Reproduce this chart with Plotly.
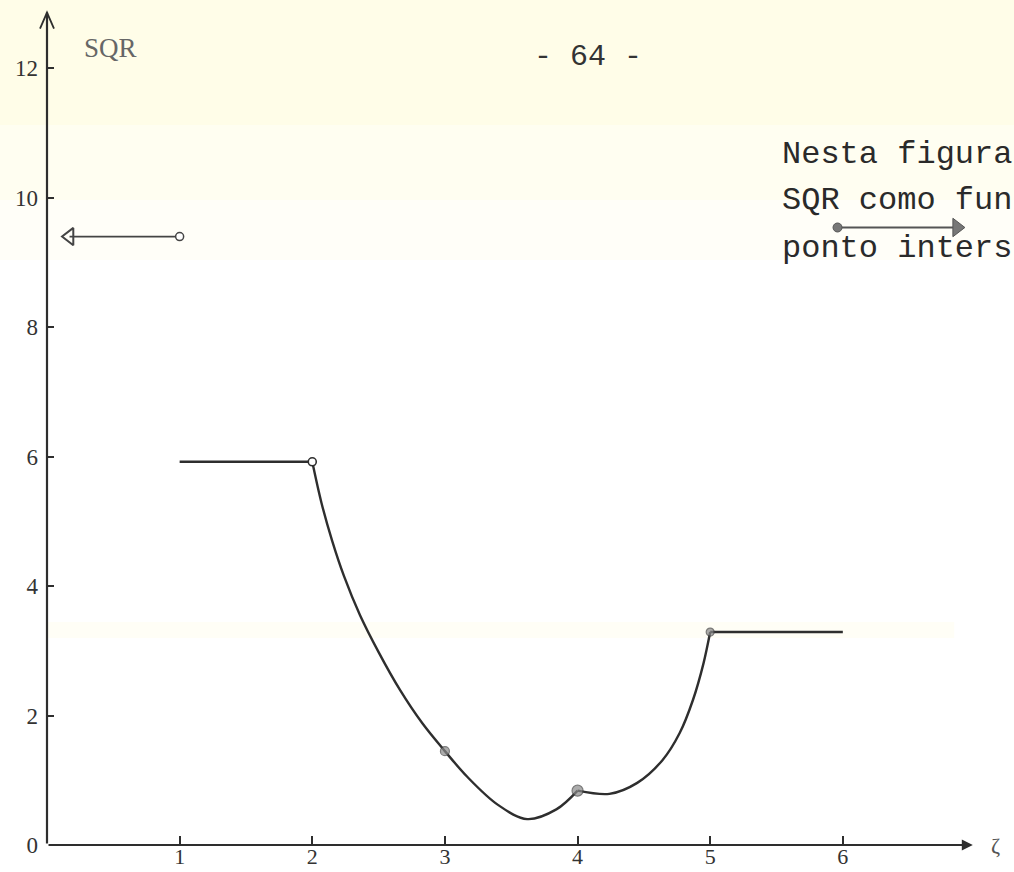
import plotly.graph_objects as go

# ---------------- data ----------------
flat_left_x = [1.0, 2.0]
flat_left_y = [5.92, 5.92]

descent_x = [2.0, 2.07, 2.15, 2.24, 2.36, 2.50, 2.66, 2.83, 3.0, 3.17, 3.40, 3.62, 3.84, 4.0]
descent_y = [5.92, 5.28, 4.70, 4.15, 3.55, 2.98, 2.40, 1.88, 1.45, 1.05, 0.62, 0.40, 0.55, 0.84]

rise_x = [4.0, 4.24, 4.45, 4.64, 4.77, 4.87, 4.95, 5.0]
rise_y = [0.84, 0.79, 0.96, 1.31, 1.73, 2.24, 2.81, 3.29]

flat_right_x = [5.0, 6.0]
flat_right_y = [3.29, 3.29]

marked_x = [3.0, 4.0, 5.0]
marked_y = [1.45, 0.84, 3.29]
open_mark_x = [2.0]
open_mark_y = [5.92]

left_arrow_x = [1.0, 0.17]
left_arrow_y = [9.40, 9.40]
right_arrow_x = [5.96, 6.86]
right_arrow_y = [9.54, 9.54]

x_ticks = [1, 2, 3, 4, 5, 6]
x_tick_labels = ["1", "2", "3", "4", "5", "6"]
y_ticks = [0, 2, 4, 6, 8, 10, 12]
y_tick_labels = ["0", "2", "4", "6", "8", "10", "12"]

side_text = ["Nesta figura", "SQR como fun", "ponto inters"]
side_text_y = [10.67, 9.95, 9.21]

# ---------------- figure ----------------
W, H = 1014, 872
ML, MR, MT, MB = 47, 12, 10, 27
XR = [0, 7.2]
YR = [0, 12.9]
px_x = (XR[1] - XR[0]) / (W - ML - MR)
px_y = (YR[1] - YR[0]) / (H - MT - MB)

INK = "#2e2e2e"
SERIF = "Liberation Serif, DejaVu Serif, serif"
MONO = "Liberation Mono, DejaVu Sans Mono, monospace"

fig = go.Figure()

line_style = dict(color=INK, width=2.4)
fig.add_trace(go.Scatter(x=flat_left_x, y=flat_left_y, mode="lines", line=line_style,
                         hoverinfo="skip", showlegend=False))
fig.add_trace(go.Scatter(x=descent_x, y=descent_y, mode="lines",
                         line=dict(color=INK, width=2.4, shape="spline", smoothing=1.0),
                         hoverinfo="skip", showlegend=False))
fig.add_trace(go.Scatter(x=rise_x, y=rise_y, mode="lines",
                         line=dict(color=INK, width=2.4, shape="spline", smoothing=0.9),
                         hoverinfo="skip", showlegend=False))
fig.add_trace(go.Scatter(x=flat_right_x, y=flat_right_y, mode="lines", line=line_style,
                         hoverinfo="skip", showlegend=False))
fig.add_trace(go.Scatter(x=marked_x, y=marked_y, mode="markers",
                         marker=dict(size=[9, 11, 8], color="#8a8a8a",
                                     line=dict(color="#444", width=1.2)),
                         hoverinfo="skip", showlegend=False))
fig.add_trace(go.Scatter(x=open_mark_x, y=open_mark_y, mode="markers",
                         marker=dict(size=8, color="white", line=dict(color=INK, width=1.6)),
                         hoverinfo="skip", showlegend=False))

# left arrow (open head, open circle at start)
fig.add_trace(go.Scatter(x=left_arrow_x, y=left_arrow_y, mode="lines",
                         line=dict(color="#444", width=1.8), hoverinfo="skip", showlegend=False))
fig.add_trace(go.Scatter(x=[left_arrow_x[0]], y=[left_arrow_y[0]], mode="markers",
                         marker=dict(size=8, color="white", line=dict(color="#444", width=1.5)),
                         hoverinfo="skip", showlegend=False))
fig.add_trace(go.Scatter(x=[left_arrow_x[-1]], y=[left_arrow_y[-1]], mode="markers",
                         marker=dict(size=15, symbol="triangle-left-open",
                                     color="#444", line=dict(color="#444", width=2)),
                         hoverinfo="skip", showlegend=False))

# right arrow (filled head, filled dot at start)
fig.add_trace(go.Scatter(x=right_arrow_x, y=right_arrow_y, mode="lines",
                         line=dict(color="#555", width=1.8), hoverinfo="skip", showlegend=False))
fig.add_trace(go.Scatter(x=[right_arrow_x[0]], y=[right_arrow_y[0]], mode="markers",
                         marker=dict(size=9, color="#777", line=dict(color="#555", width=1)),
                         hoverinfo="skip", showlegend=False))
fig.add_trace(go.Scatter(x=[right_arrow_x[-1]], y=[right_arrow_y[-1]], mode="markers",
                         marker=dict(size=16, symbol="triangle-right",
                                     color="#777", line=dict(color="#555", width=1)),
                         hoverinfo="skip", showlegend=False))

# ---------------- background tint (scanned paper) ----------------
def py2paper(py):
    return (H - MB - py) / (H - MT - MB)

shapes = [
    dict(type="rect", xref="paper", yref="paper", x0=-0.1, x1=1.1,
         y0=py2paper(125), y1=py2paper(-5), fillcolor="#fffde8", line=dict(width=0), layer="below"),
    dict(type="rect", xref="paper", yref="paper", x0=-0.1, x1=1.1,
         y0=py2paper(200), y1=py2paper(125), fillcolor="#fffde8", opacity=0.6,
         line=dict(width=0), layer="below"),
    dict(type="rect", xref="paper", yref="paper", x0=-0.1, x1=1.1,
         y0=py2paper(260), y1=py2paper(200), fillcolor="#fffde8", opacity=0.3,
         line=dict(width=0), layer="below"),
    dict(type="rect", xref="paper", yref="paper", x0=0.0, x1=0.95,
         y0=py2paper(638), y1=py2paper(622), fillcolor="#fffde8", opacity=0.4,
         line=dict(width=0), layer="below"),
]

# open V head on top of the y axis (paper coordinates so it is not clipped)
y_top = 12.86
tip_p = y_top / (YR[1] - YR[0])
head_dx = 7 / (W - ML - MR)
head_dy = 16 / (H - MT - MB)
shapes.append(dict(type="path", xref="paper", yref="paper",
                   path=f"M {-head_dx},{tip_p - head_dy} L 0,{tip_p} L {head_dx},{tip_p - head_dy}",
                   line=dict(color=INK, width=1.8)))

annotations = []
# y axis line
annotations.append(dict(x=0, y=y_top, ax=0, ay=0, xref="x", yref="y", axref="x", ayref="y",
                        text="", showarrow=True, arrowhead=0, arrowwidth=2.2, arrowcolor=INK))
# x axis with arrow
annotations.append(dict(x=6.98, y=0, ax=0, ay=0, xref="x", yref="y", axref="x", ayref="y",
                        text="", showarrow=True, arrowhead=2, arrowsize=1.1,
                        arrowwidth=2, arrowcolor=INK))
annotations.append(dict(x=7.15, y=0, xref="x", yref="y", text="ζ", showarrow=False,
                        font=dict(family=SERIF, size=22, color="#555"),
                        xanchor="center", yanchor="middle"))
annotations.append(dict(x=0.475, y=12.31, xref="x", yref="y", text="SQR", showarrow=False,
                        font=dict(family=SERIF, size=27, color="#666"),
                        xanchor="center", yanchor="middle"))
annotations.append(dict(x=4.08, y=12.17, xref="x", yref="y", text="- 64 -",
                        showarrow=False, font=dict(family=MONO, size=30, color="#333"),
                        xanchor="center", yanchor="middle"))
for t, yy in zip(side_text, side_text_y):
    annotations.append(dict(x=5.53, y=yy, xref="x", yref="y", text=t, showarrow=False,
                            font=dict(family=MONO, size=32, color="#2a2a2a"),
                            xanchor="left", yanchor="middle"))

fig.update_layout(
    width=W, height=H,
    margin=dict(l=ML, r=MR, t=MT, b=MB, autoexpand=False),
    paper_bgcolor="white", plot_bgcolor="rgba(0,0,0,0)",
    shapes=shapes, annotations=annotations, showlegend=False,
    xaxis=dict(range=XR, showgrid=False, zeroline=False, showline=False,
               tickmode="array", tickvals=x_ticks, ticktext=x_tick_labels,
               ticks="inside", ticklen=9, tickwidth=2, tickcolor=INK,
               ticklabelstandoff=-4,
               tickfont=dict(family=SERIF, size=22, color="#333")),
    yaxis=dict(range=YR, showgrid=False, zeroline=False, showline=False,
               tickmode="array", tickvals=y_ticks, ticktext=y_tick_labels,
               ticks="inside", ticklen=7, tickwidth=2, tickcolor=INK,
               ticklabelstandoff=8,
               tickfont=dict(family=SERIF, size=23, color="#333")),
)

fig.write_html("out.html")
